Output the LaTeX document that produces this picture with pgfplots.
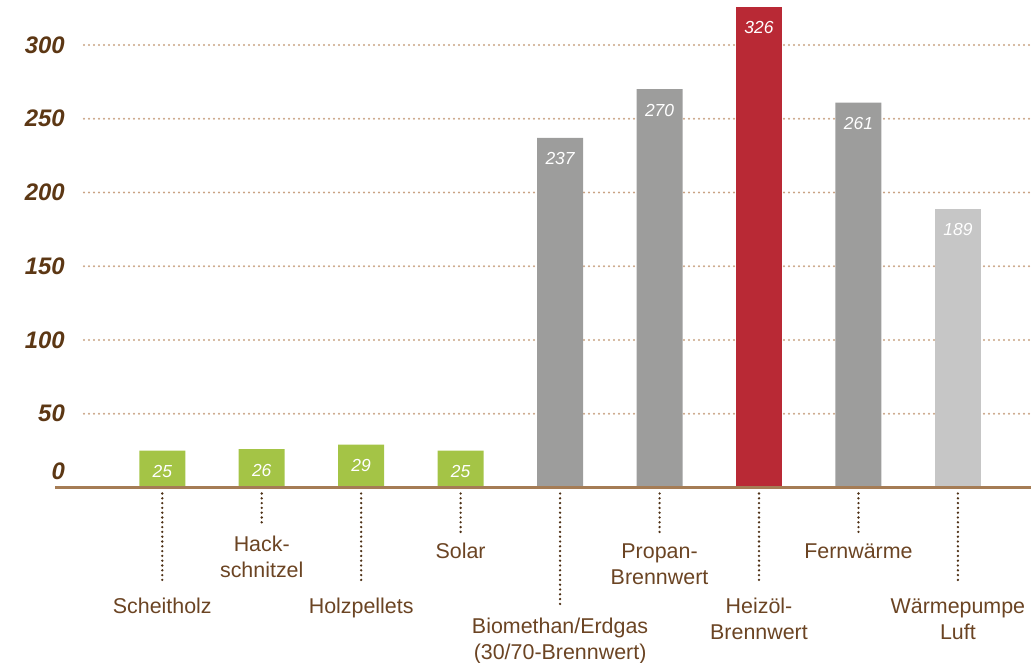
\documentclass[border=0pt]{standalone}
\usepackage{fontspec}
\setmainfont{Liberation Sans}
\usepackage{pgfplots}
\pgfplotsset{compat=1.18}
\definecolor{cgreen}{HTML}{A4C446}
\definecolor{cgray}{HTML}{9D9D9C}
\definecolor{cred}{HTML}{B92935}
\definecolor{clgray}{HTML}{C6C6C6}
\definecolor{caxis}{HTML}{A57C55}
\definecolor{cgrid}{HTML}{C9A384}
\definecolor{ctick}{HTML}{5C3714}
\definecolor{ctext}{HTML}{6B4423}
\definecolor{cdot}{HTML}{4E3116}
\begin{document}
\begin{tikzpicture}
\begin{axis}[
  at={(84bp,175.5bp)}, anchor=south west,
  scale only axis, width=947bp, height=487.5bp,
  xmin=-0.787, xmax=8.735, ymin=0, ymax=330.5,
  ybar=0pt, bar width=46bp,
  clip=false,
  axis line style={draw=none},
  xtick=\empty,
  ytick={50,100,...,300},
  major tick length=0pt,
  ymajorgrids,
  grid style={draw=cgrid, line width=2.2bp, line cap=round, dash pattern=on 0bp off 5bp},
  yticklabel style={font=\fontsize{24}{24}\selectfont\bfseries\itshape, text=ctick, anchor=east, inner sep=0pt, xshift=-19bp},
  /pgf/number format/assume math mode=true,
  every axis plot/.append style={draw=none, bar shift=0pt},
  nodes near coords,
  every node near coord/.append style={text=white, font=\fontsize{17.5}{17.5}\selectfont\itshape, anchor=center, yshift=-21bp},
]
\addplot[fill=cgreen] coordinates {(0,25) (1,26) (2,29) (3,25)};
\addplot[fill=cgray] coordinates {(4,237) (5,270) (7,261)};
\addplot[fill=cred] coordinates {(6,326)};
\addplot[fill=clgray] coordinates {(8,189)};

\draw[line width=3bp, color=caxis] (axis cs:-0.787,0) ++(-29bp,0bp) -- (axis cs:8.735,0);
\node[anchor=east, inner sep=0pt, font=\fontsize{24}{24}\selectfont\bfseries\itshape, text=ctick, xshift=-19bp, yshift=16.5bp] at (axis cs:-0.787,0) {0};

\tikzset{lead/.style={draw=cdot, line width=2.6bp, line cap=round, dash pattern=on 0bp off 4.8bp},
         cat/.style={anchor=base, inner sep=0pt, text=ctext, font=\fontsize{21.5}{26}\selectfont}}
\draw[lead] (axis cs:0,0) ++(0bp,-6bp) -- ++(0bp,-91bp);
\draw[lead] (axis cs:1,0) ++(0bp,-6bp) -- ++(0bp,-30bp);
\draw[lead] (axis cs:2,0) ++(0bp,-6bp) -- ++(0bp,-91bp);
\draw[lead] (axis cs:3,0) ++(0bp,-6bp) -- ++(0bp,-39bp);
\draw[lead] (axis cs:4,0) ++(0bp,-6bp) -- ++(0bp,-112bp);
\draw[lead] (axis cs:5,0) ++(0bp,-6bp) -- ++(0bp,-39bp);
\draw[lead] (axis cs:6,0) ++(0bp,-6bp) -- ++(0bp,-91bp);
\draw[lead] (axis cs:7,0) ++(0bp,-6bp) -- ++(0bp,-39bp);
\draw[lead] (axis cs:8,0) ++(0bp,-6bp) -- ++(0bp,-91bp);

\node[cat, yshift=-125.5bp] at (axis cs:0,0) {Scheitholz};
\node[cat, yshift=-63.5bp] at (axis cs:1,0) {Hack-};
\node[cat, yshift=-89.5bp] at (axis cs:1,0) {schnitzel};
\node[cat, yshift=-125.5bp] at (axis cs:2,0) {Holzpellets};
\node[cat, yshift=-70.5bp] at (axis cs:3,0) {Solar};
\node[cat, yshift=-146bp] at (axis cs:4,0) {Biomethan/Erdgas};
\node[cat, yshift=-172bp] at (axis cs:4,0) {(30/70-Brennwert)};
\node[cat, yshift=-70.5bp] at (axis cs:5,0) {Propan-};
\node[cat, yshift=-96.5bp] at (axis cs:5,0) {Brennwert};
\node[cat, yshift=-125.5bp] at (axis cs:6,0) {Heizöl-};
\node[cat, yshift=-151.5bp] at (axis cs:6,0) {Brennwert};
\node[cat, yshift=-70.5bp] at (axis cs:7,0) {Fernwärme};
\node[cat, yshift=-125.5bp] at (axis cs:8,0) {Wärmepumpe};
\node[cat, yshift=-151.5bp] at (axis cs:8,0) {Luft};
\end{axis}
\pgfresetboundingbox
\path[use as bounding box] (0,0) rectangle (1031bp,663bp);
\end{tikzpicture}
\end{document}
